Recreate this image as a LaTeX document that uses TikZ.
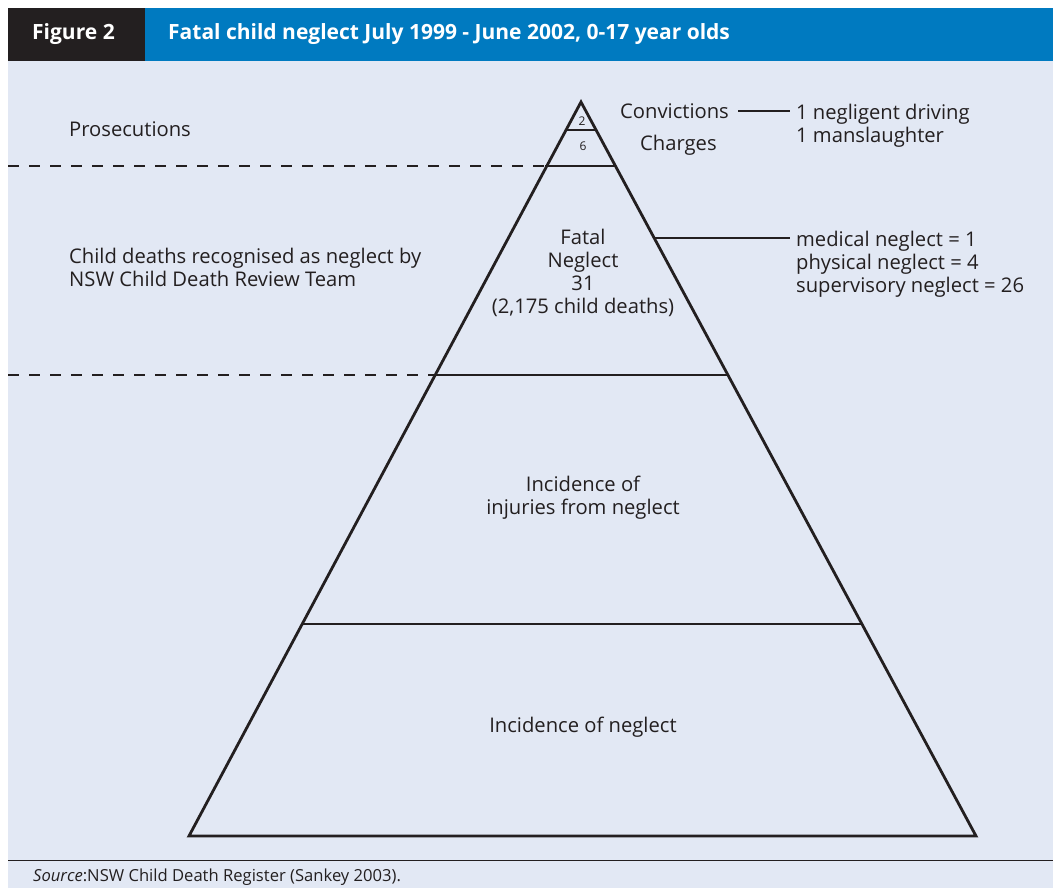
\documentclass[tikz,border=0pt]{standalone}
\usepackage{fontspec}
\setmainfont{Open Sans}
\usetikzlibrary{positioning}

\definecolor{panelbg}{HTML}{E2E8F4}
\definecolor{headblue}{HTML}{007AC0}
\definecolor{headblack}{HTML}{231F20}
\definecolor{ink}{HTML}{231F20}

\begin{document}
\begin{tikzpicture}[
    x=1pt, y=-1pt,
    label/.style={text=ink, inner sep=0pt, font=\fontsize{20.2}{23}\selectfont},
    tiny/.style={text=ink, inner sep=0pt, font=\fontsize{12}{14}\selectfont},
    level/.style={draw=ink, line width=2.8pt, line join=miter},
    guide/.style={draw=ink, line width=2pt, dash pattern=on 11pt off 10pt},
    leader/.style={draw=ink, line width=1.1pt}
]

% Page and header
\useasboundingbox (0,0) rectangle (1053,888);
\fill[white] (0,0) rectangle (1053,888);
\fill[panelbg] (8,61) rectangle (1053,888);
\fill[headblack] (8,8) rectangle (145,61);
\fill[headblue] (145,8) rectangle (1053,61);
\node[anchor=west, text=white, inner sep=0pt, font=\fontsize{21}{24}\selectfont\bfseries] (fig) at (32,34) {Figure 2};
\node[anchor=west, text=white, inner sep=0pt, font=\fontsize{21}{24}\selectfont\bfseries] (title) at (168,34) {Fatal child neglect July 1999 - June 2002, 0-17 year olds};

% Pyramid corners
\coordinate (apex) at (581,102);
\coordinate (bl) at (189,836);
\coordinate (br) at (976,836);

% Dashed guides to the left
\draw[guide] (8,166) -- (545,166);
\draw[guide] (8,375) -- (435,375);

% Pyramid and its levels
\draw[level] (apex) -- (bl) -- (br) -- cycle;
\draw[level] (566,130) -- (596,130);
\draw[level] (545,166) -- (615,166);
\draw[level] (435,375) -- (728,375);
\draw[level] (302,624) -- (862,624);

% Texts inside the pyramid
\node[tiny] (conv-n) at (582,121) {2};
\node[tiny] (charge-n) at (583,146) {6};
\node[label, align=center, anchor=north] (fatal) at (583,229) {Fatal\\Neglect\\31\\(2,175 child deaths)};
\node[label, align=center, anchor=north] (injury) at (583,476) {Incidence of\\injuries from neglect};
\node[label] (neglect) at (583,727) {Incidence of neglect};

% Texts on the left
\node[label, anchor=west] (prosec) at (69,129) {Prosecutions};
\node[label, align=left, anchor=north west] (review) at (69,248) {Child deaths recognised as neglect by\\NSW Child Death Review Team};

% Texts on the right
\node[label, anchor=west] (conv) at (620,111) {Convictions};
\node[label, anchor=west] (charges) at (640,145) {Charges};
\node[label, align=left, anchor=north west] (drv) at (796,104) {1 negligent driving\\1 manslaughter};
\node[label, align=left, anchor=north west] (types) at (796,231) {medical neglect = 1\\physical neglect = 4\\supervisory neglect = 26};
\coordinate (side) at (654,238);

% Leader lines
\draw[leader] ([xshift=9pt]conv.east) -- (790,111);
\draw[leader] (side) -- (790,238);

% Source note
\draw[line width=1pt, ink] (8,860) -- (1053,860);
\node[text=ink, anchor=west, inner sep=0pt, font=\fontsize{16.6}{18}\selectfont] (source) at (33,877) {\textit{Source}:NSW Child Death Register (Sankey 2003).};

\end{tikzpicture}
\end{document}
